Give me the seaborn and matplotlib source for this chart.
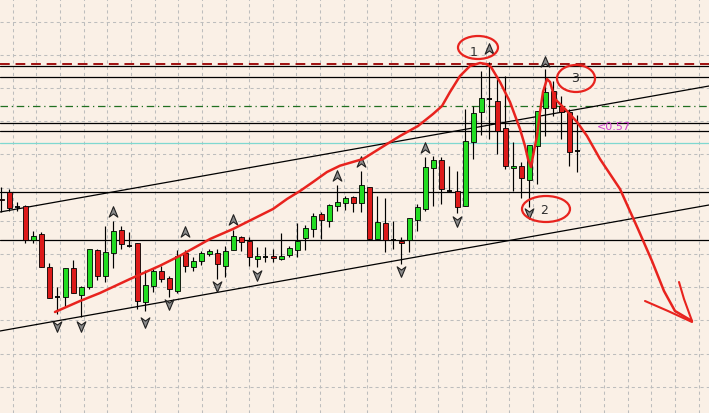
import numpy as np
import pandas as pd
import matplotlib
matplotlib.use("Agg")
import matplotlib.pyplot as plt
from matplotlib.path import Path
from matplotlib.patches import Ellipse
import seaborn as sns

# ---------------- data (price units) ----------------
opens = [214, 221, 206.5, 207, 173, 179, 146, 116.3, 116, 145, 118, 126, 163, 137, 160, 183,
         167.3, 170, 111, 127, 142.3, 135, 122.3, 160, 146, 152, 159, 160, 147, 163, 176.3, 172,
         154, 156, 157, 154, 158, 163.3, 175, 184, 199, 192.3, 207.3, 210, 216, 210, 226, 174,
         190, 173.3, 172.3, 173.3, 193.3, 204, 245, 253, 222.3, 222, 207, 271, 301, 314, 312.3,
         285, 245, 247.3, 233.3, 267, 305, 322, 307.3, 301.3, 262.3]
highs = [226, 224, 211, 208.3, 182, 181, 150, 126.3, 145, 153.3, 127, 164, 164, 187, 192, 187,
         181.3, 170, 143.3, 145, 147, 137, 163.3, 163.3, 156, 162, 164, 164, 167, 183, 177.3, 176.3,
         166, 166, 164, 180, 167.3, 190, 188.3, 200, 201, 209, 228.3, 217.3, 217.3, 242, 226, 217,
         215, 192.3, 176.3, 195, 209, 256, 257, 256, 247.3, 242, 304, 307.3, 342.3, 351, 334,
         337, 271, 251, 268, 302.3, 344, 332.3, 317.3, 304, 298]
lows = [201, 202, 202, 170, 170, 146, 115, 99, 106, 120, 96, 124, 133, 131, 145, 164,
        166.3, 104, 102.3, 121, 131, 116, 120, 141, 142, 148, 157, 134, 136, 163, 162.3, 147,
        146, 151, 151, 153.3, 156, 156, 163.3, 176, 174, 186, 202.3, 203, 201.3, 201.3, 173, 174,
        161, 164, 149, 161.3, 182.3, 202.3, 207.3, 209, 221.3, 200, 207, 254, 278.3, 274, 259,
        244, 222.3, 215, 206, 229, 277.3, 297.3, 274, 247.3, 241]
closes = [213, 205, 206.3, 173, 177.3, 146, 115, 116.3, 145, 120, 126, 164, 137, 161, 182, 169,
          167.3, 112, 128.3, 142, 134, 124, 157.3, 147, 152, 160, 162, 149, 162, 177.3, 171, 156,
          157, 156, 155, 157, 165, 172, 185, 197.3, 193.3, 208, 211, 215, 210, 228, 174, 191,
          173.3, 173.3, 170, 195, 206, 246, 253, 224, 222.3, 206, 272, 300, 315, 314, 282.3,
          247, 247, 235, 268, 302.3, 321, 305, 301.3, 261, 262.3]

# fractal markers: candle index and price level
fractal_up_idx = [14, 23, 29, 42, 45, 53, 61, 68]
fractal_up_lvl = [201, 181, 193.3, 237.3, 251, 265, 364, 351.3]
fractal_dn_idx = [7, 10, 18, 21, 27, 32, 50, 57, 66]
fractal_dn_lvl = [87.3, 87.3, 91, 109, 127, 138, 142.3, 192.3, 200]

# horizontal levels
black_levels = [347.5, 336.5, 290, 282, 220.7, 173]
red_dash_level = 349
green_dash_level = 306.7
cyan_level = 270

# channel trend lines (x pixel, price)
upper_tl_x = [0, 709]
upper_tl_y = [201, 327]
lower_tl_x = [0, 709]
lower_tl_y = [82, 208]

# hand-drawn red path
path_x = [55, 80, 100, 130, 160, 180, 210, 233, 257, 273, 287, 300, 313, 327, 340, 363, 387,
          400, 418, 433, 442, 450, 460, 470, 480, 486, 491, 500, 510, 520, 525, 528, 531, 533,
          537, 540, 543, 547, 550, 555, 567, 577, 587, 600, 620, 638, 652, 664, 675, 692]
path_y = [101, 112, 120, 134, 147.3, 157.3, 174, 184, 196, 204, 214, 222, 231, 241, 247.3, 254, 269,
          277, 287, 299, 307, 321, 337, 347, 350, 349, 346, 331, 311, 284, 267, 254, 246, 257,
          277, 301, 321, 334, 331, 314, 302, 291, 277, 254, 224, 184, 152, 122, 102, 92]
head1_x = [645, 668, 692]
head1_y = [112, 102, 91]
head2_x = [679, 684, 692]
head2_y = [131, 114, 92]

# circled labels
labels = ["1", "2", "3"]
label_x = [474, 544, 575]
label_y = [362, 204, 336]
circle_x = [478, 546, 576]
circle_y = [365.5, 204, 334.5]
circle_w = [40, 48, 38]
circle_h = [23, 26, 27]

price_label = "<0.57"
price_label_x = 597
price_label_y = 287

# ---------------- drawing ----------------
sns.set_theme(style="white")
bg = "#FAF0E6"
fig = plt.figure(figsize=(7.09, 4.14), dpi=100, facecolor=bg)
ax = fig.add_axes([0, 0, 1, 1])
ax.set_facecolor(bg)
ax.set_xlim(0, 709)
ax.set_ylim(0, 414)
for s in ax.spines.values():
    s.set_visible(False)
ax.set_xticks([])
ax.set_yticks([])

# grid
for gx in np.arange(12.7, 709, 23.65):
    ax.axvline(gx, color="#BDBDBD", lw=0.75, ls=(0, (3, 3)), zorder=0)
for gy in 414 - np.arange(22.5, 414, 33.2):
    ax.axhline(gy, color="#BDBDBD", lw=0.75, ls=(0, (3, 3)), zorder=0)

# levels
for lv in black_levels:
    ax.axhline(lv, color="black", lw=0.9, zorder=1)
ax.axhline(red_dash_level, color="#A01010", lw=1.4, ls=(0, (5, 3)), zorder=1.2)
ax.axhline(green_dash_level, color="#207020", lw=0.9, ls=(0, (6, 3, 1, 3)), zorder=1)
ax.axhline(cyan_level, color="#7FD8D0", lw=0.9, zorder=1)

# trend lines
sns.lineplot(x=upper_tl_x, y=upper_tl_y, ax=ax, color="black", lw=0.9, zorder=1)
sns.lineplot(x=lower_tl_x, y=lower_tl_y, ax=ax, color="black", lw=0.9, zorder=1)

# candles
df = pd.DataFrame({"o": opens, "h": highs, "l": lows, "c": closes})
df["x"] = 1.3 + 8 * np.arange(len(df))
ax.vlines(df["x"], df["l"], df["h"], color="black", lw=0.85, zorder=2)
for _, r in df.iterrows():
    diff = r.c - r.o
    if abs(diff) < 1:
        ax.hlines(r.o, r.x - 2.5, r.x + 2.5, color="black", lw=1.3, zorder=3)
    else:
        col = "#22DD22" if diff > 0 else "#DD1A1A"
        ax.bar(r.x, abs(diff), bottom=min(r.o, r.c), width=5, color=col,
               edgecolor="black", lw=0.6, zorder=3)

# fractal markers
up_verts = [(0, 1), (0.75, -0.8), (0, -0.25), (-0.75, -0.8), (0, 1)]
up_marker = Path(up_verts, [Path.MOVETO, Path.LINETO, Path.LINETO, Path.LINETO, Path.CLOSEPOLY])
dn_marker = Path([(x, -y) for x, y in up_verts],
                 [Path.MOVETO, Path.LINETO, Path.LINETO, Path.LINETO, Path.CLOSEPOLY])
fu = pd.DataFrame({"x": 1.3 + 8 * np.array(fractal_up_idx), "y": fractal_up_lvl})
fd = pd.DataFrame({"x": 1.3 + 8 * np.array(fractal_dn_idx), "y": fractal_dn_lvl})
sns.scatterplot(data=fu, x="x", y="y", ax=ax, marker=up_marker, s=70, color="#8A8A8A",
                edgecolor="#202020", linewidth=0.8, zorder=4)
sns.scatterplot(data=fd, x="x", y="y", ax=ax, marker=dn_marker, s=70, color="#8A8A8A",
                edgecolor="#202020", linewidth=0.8, zorder=4)

# hand-drawn annotation
red = "#E8231E"
sns.lineplot(x=path_x, y=path_y, ax=ax, sort=False, color=red, lw=1.8, zorder=5)
sns.lineplot(x=head1_x, y=head1_y, ax=ax, sort=False, color=red, lw=1.5, zorder=5)
sns.lineplot(x=head2_x, y=head2_y, ax=ax, sort=False, color=red, lw=1.5, zorder=5)
for cx, cy, w, h in zip(circle_x, circle_y, circle_w, circle_h):
    ax.add_patch(Ellipse((cx, cy), w, h, fill=False, edgecolor=red, lw=1.6, zorder=5))
for t, tx, ty in zip(labels, label_x, label_y):
    ax.text(tx, ty, t, fontsize=9, color="#303030", ha="center", va="center", zorder=6)

ax.text(price_label_x, price_label_y, price_label, fontsize=8, color="#D040D0",
        ha="left", va="center", zorder=6)

if ax.get_legend():
    ax.get_legend().remove()
fig.savefig("out.png", dpi=100, facecolor=bg)
